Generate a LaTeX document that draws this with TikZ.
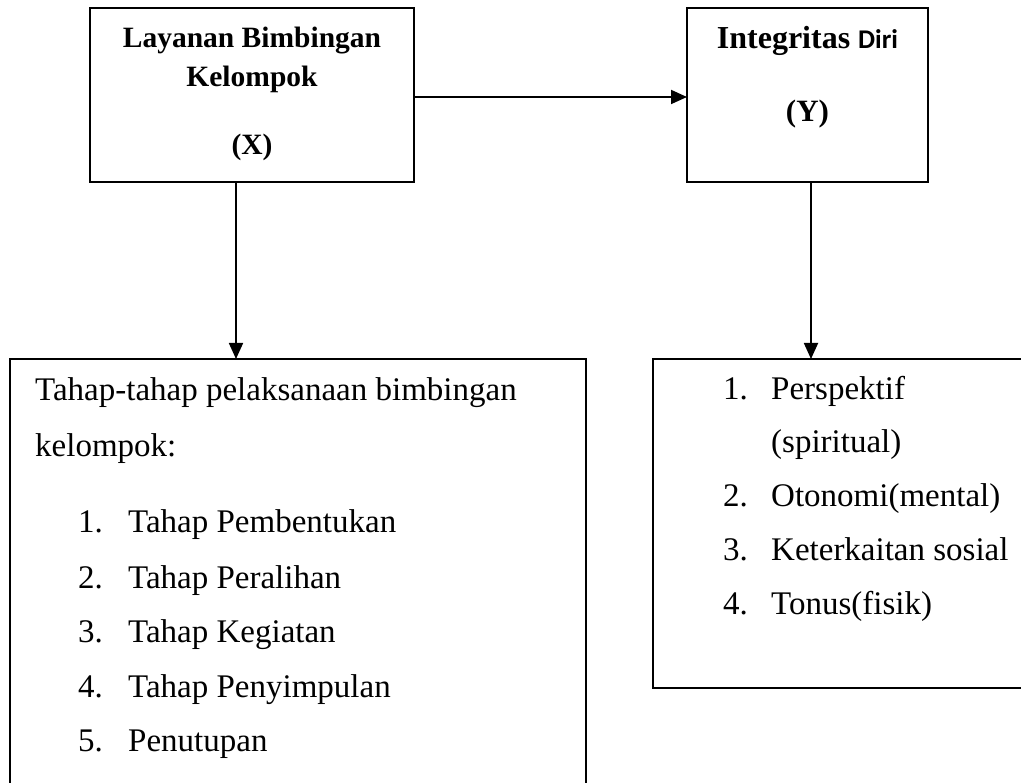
\documentclass[tikz,border=0pt]{standalone}
\usepackage{fontspec}
\setmainfont{Liberation Serif}
\newfontfamily\calib{Carlito}
\usetikzlibrary{arrows.meta}
\begin{document}
\begin{tikzpicture}[x=1pt,y=-1pt,
  box/.style={draw, line width=1.8pt, inner sep=0pt, outer sep=0pt},
  head/.style={inner sep=0pt, anchor=base, font=\fontsize{29.5}{34}\selectfont\bfseries},
  body/.style={inner sep=0pt, anchor=base west, font=\fontsize{33}{38}\selectfont},
  conn/.style={line width=1.8pt, -{Triangle[length=16pt,width=14pt]}}]
\useasboundingbox (0,0) rectangle (1021,783);
\clip (0,0) rectangle (1021,783);
% boxes
\node[box, minimum width=324pt, minimum height=174pt] (X) at (252,95) {};
\node[box, minimum width=241pt, minimum height=174pt] (Y) at (807.5,95) {};
\node[box, minimum width=576pt, minimum height=441pt] (L) at (298,579.5) {};
\node[box, minimum width=377pt, minimum height=329pt] (R) at (841.5,523.5) {};
% headings
\node[head] (x1) at (252,48) {Layanan Bimbingan};
\node[head] (x2) at (252,87) {Kelompok};
\node[head] (x3) at (252,155) {(X)};
\node[head, font=\fontsize{32}{36}\selectfont\bfseries] (y1) at (807.5,49) {Integritas {\calib\fontsize{27}{30}\selectfont\bfseries Diri}};
\node[head, font=\fontsize{31}{36}\selectfont\bfseries] (y2) at (807.5,122) {(Y)};
% left list
\node[body] (l0) at (35,401) {Tahap-tahap pelaksanaan bimbingan};
\node[body] (l00) at (35,457) {kelompok:};
\node[body] (n1) at (78,533) {1.};
\node[body] (l1) at (128,533) {Tahap Pembentukan};
\node[body] (n2) at (78,588) {2.};
\node[body] (l2) at (128,588) {Tahap Peralihan};
\node[body] (n3) at (78,642) {3.};
\node[body] (l3) at (128,642) {Tahap Kegiatan};
\node[body] (n4) at (78,697) {4.};
\node[body] (l4) at (128,697) {Tahap Penyimpulan};
\node[body] (n5) at (78,751) {5.};
\node[body] (l5) at (128,751) {Penutupan};
% right list
\node[body] (m1) at (723,400) {1.};
\node[body] (r1) at (771,400) {Perspektif};
\node[body] (r1b) at (771,453) {(spiritual)};
\node[body] (m2) at (723,507) {2.};
\node[body] (r2) at (771,507) {Otonomi(mental)};
\node[body] (m3) at (723,561) {3.};
\node[body] (r3) at (771,561) {Keterkaitan sosial};
\node[body] (m4) at (723,615) {4.};
\node[body] (r4) at (771,615) {Tonus(fisik)};
% connectors
\coordinate (ax) at (236,0);
\coordinate (ay) at (811,0);
\draw[conn] ([yshift=-2pt]X.east) -- ([yshift=-2pt]Y.west);
\draw[conn] (X.south -| ax) -- (L.north -| ax);
\draw[conn] (Y.south -| ay) -- (R.north -| ay);
\end{tikzpicture}
\end{document}
